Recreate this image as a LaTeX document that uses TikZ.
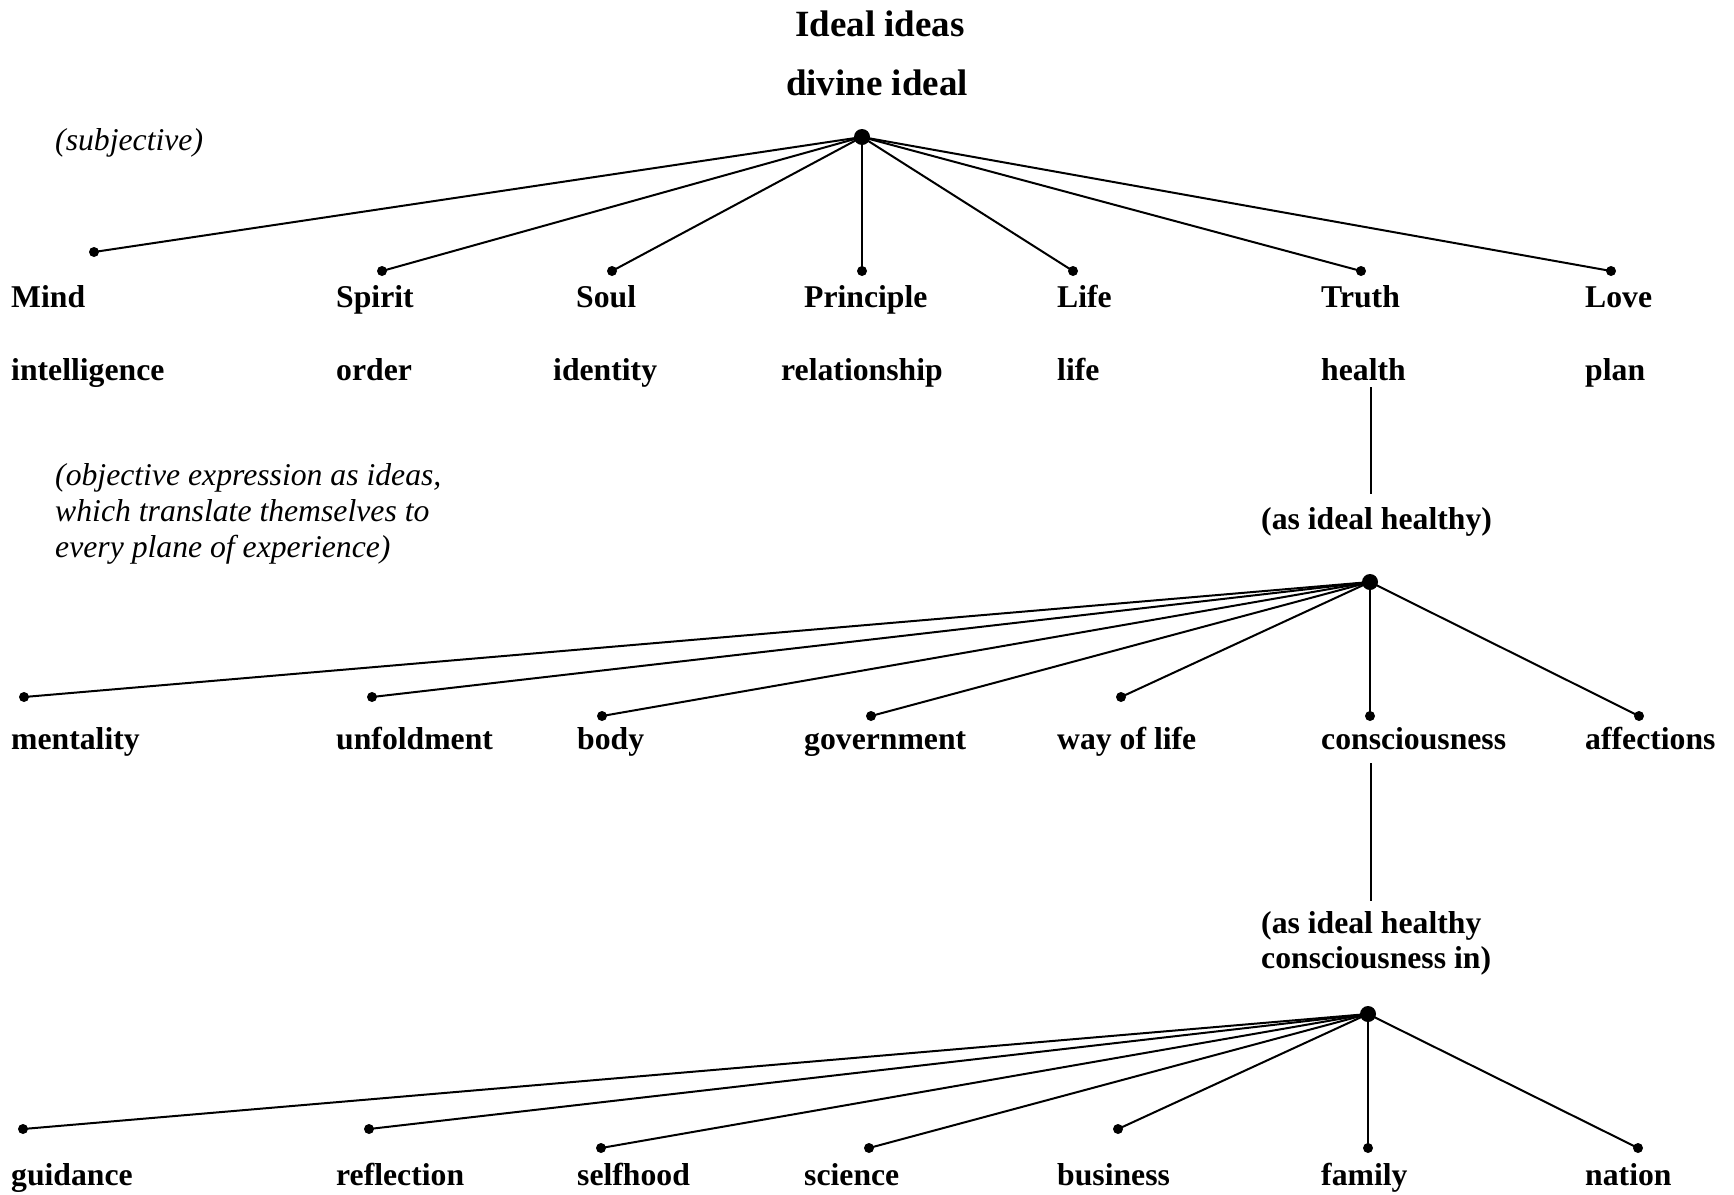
\documentclass[tikz,border=0pt]{standalone}
\usepackage{fontspec}
\setmainfont{Liberation Serif}
\begin{document}
\begin{tikzpicture}[x=1pt,y=-1pt,
  lbl/.style={anchor=base west,inner sep=0pt,font=\fontsize{31.7}{36}\selectfont\bfseries},
  itl/.style={anchor=base west,inner sep=0pt,font=\fontsize{31.7}{36}\selectfont\itshape},
  ttl/.style={anchor=base,inner sep=0pt,font=\fontsize{37}{42}\selectfont\bfseries},
  leaf/.style={circle,fill=black,inner sep=0pt,minimum size=10pt},
  hub/.style={circle,fill=black,inner sep=0pt,minimum size=16pt},
  spoke/.style={line width=2pt},
  vline/.style={line width=1.3pt}]
\useasboundingbox (0,0) rectangle (1734,1194);
% titles
\node[ttl] (t1) at (880,36) {Ideal ideas};
\node[ttl] (t2) at (877,95) {divine ideal};
\node[itl] (subj) at (55,150) {(subjective)};
% level 1
\node[hub] (h0) at (862,137) {};
\node[leaf] (d1) at (94,252) {};
\node[leaf] (d2) at (382,271) {};
\node[leaf] (d3) at (612,271) {};
\node[leaf] (d4) at (862,271) {};
\node[leaf] (d5) at (1073,271) {};
\node[leaf] (d6) at (1361,271) {};
\node[leaf] (d7) at (1611,271) {};
\foreach \i in {1,...,7} \draw[spoke] (h0.center) -- (d\i.center);
\node[lbl] (a1) at (11,307) {Mind};
\node[lbl] (a2) at (336,307) {Spirit};
\node[lbl] (a3) at (576,307) {Soul};
\node[lbl] (a4) at (804,307) {Principle};
\node[lbl] (a5) at (1057,307) {Life};
\node[lbl] (a6) at (1321,307) {Truth};
\node[lbl] (a7) at (1585,307) {Love};
\node[lbl] (b1) at (11,380) {intelligence};
\node[lbl] (b2) at (336,380) {order};
\node[lbl] (b3) at (553,380) {identity};
\node[lbl] (b4) at (781,380) {relationship};
\node[lbl] (b5) at (1057,380) {life};
\node[lbl] (b6) at (1321,380) {health};
\node[lbl] (b7) at (1585,380) {plan};
% objective text
\node[itl] (o1) at (55,485) {(objective expression as ideas,};
\node[itl] (o2) at (55,521) {which translate themselves to};
\node[itl] (o3) at (55,557) {every plane of experience)};
% level 2
\coordinate (v1a) at (1371,387);
\coordinate (v1b) at (1371,494);
\draw[vline] (v1a) -- (v1b);
\node[lbl] (q1) at (1261,529) {(as ideal healthy)};
\node[hub] (h1) at (1370,582) {};
\node[leaf] (e1) at (24,697) {};
\node[leaf] (e2) at (372,697) {};
\node[leaf] (e3) at (602,716) {};
\node[leaf] (e4) at (871,716) {};
\node[leaf] (e5) at (1121,697) {};
\node[leaf] (e6) at (1370,716) {};
\node[leaf] (e7) at (1639,716) {};
\foreach \i in {1,...,7} \draw[spoke] (h1.center) -- (e\i.center);
\node[lbl] (c1) at (11,749) {mentality};
\node[lbl] (c2) at (336,749) {unfoldment};
\node[lbl] (c3) at (577,749) {body};
\node[lbl] (c4) at (804,749) {government};
\node[lbl] (c5) at (1057,749) {way of life};
\node[lbl] (c6) at (1321,749) {consciousness};
\node[lbl] (c7) at (1585,749) {affections};
% level 3
\coordinate (v2a) at (1371,763);
\coordinate (v2b) at (1371,901);
\draw[vline] (v2a) -- (v2b);
\node[lbl] (r1) at (1261,933) {(as ideal healthy};
\node[lbl] (r2) at (1261,968) {consciousness in)};
\node[hub] (h2) at (1368,1014) {};
\node[leaf] (f1) at (23,1129) {};
\node[leaf] (f2) at (369,1129) {};
\node[leaf] (f3) at (601,1148) {};
\node[leaf] (f4) at (869,1148) {};
\node[leaf] (f5) at (1118,1129) {};
\node[leaf] (f6) at (1368,1148) {};
\node[leaf] (f7) at (1638,1148) {};
\foreach \i in {1,...,7} \draw[spoke] (h2.center) -- (f\i.center);
\node[lbl] (g1) at (11,1185) {guidance};
\node[lbl] (g2) at (336,1185) {reflection};
\node[lbl] (g3) at (577,1185) {selfhood};
\node[lbl] (g4) at (804,1185) {science};
\node[lbl] (g5) at (1057,1185) {business};
\node[lbl] (g6) at (1321,1185) {family};
\node[lbl] (g7) at (1585,1185) {nation};
\end{tikzpicture}
\end{document}
